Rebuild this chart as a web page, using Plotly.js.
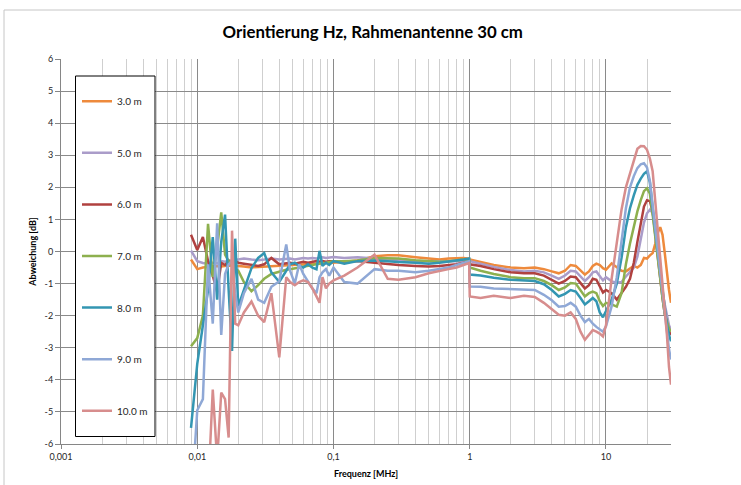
<!DOCTYPE html>
<html><head><meta charset="utf-8">
<script src="https://cdn.plot.ly/plotly-3.0.1.min.js"></script>
<style>html,body{margin:0;padding:0;background:#fff}#chart{width:741px;height:485px}</style>
</head><body><div id="chart"></div>
<script>
// Frequency in MHz
const freq = [0.009,0.010,0.011,0.012,0.013,0.014,0.015,0.016,0.017,0.018,0.019,0.020,
 0.022,0.025,0.028,0.031,0.035,0.040,0.045,0.048,0.052,0.056,0.060,0.065,0.070,0.075,0.079,0.083,0.088,0.093,0.100,
 0.12,0.15,0.2,0.25,0.3,0.4,0.5,0.6,0.7,0.8,0.9,0.99,
 1.0,1.2,1.5,2.0,2.5,3.0,3.5,4.0,4.5,5.0,5.5,6.0,6.5,7.0,7.5,8.0,8.5,9.0,9.5,10,
 11,12,13,14,15,16,17,18,19,20,21,22,23,24,25,26,27,28,29,30];

const dev3m = [-0.25,-0.55,-0.5,-0.48,-0.46,-0.45,-0.47,-0.45,-0.44,-0.45,-0.44,-0.45,
 -0.47,-0.5,-0.48,-0.47,-0.45,-0.45,-0.43,-0.42,-0.42,-0.4,-0.4,-0.4,-0.38,-0.38,-0.38,-0.37,-0.36,-0.36,-0.35,
 -0.33,-0.28,-0.15,-0.12,-0.12,-0.18,-0.22,-0.25,-0.22,-0.2,-0.2,-0.22,
 -0.25,-0.33,-0.42,-0.5,-0.52,-0.5,-0.55,-0.62,-0.68,-0.6,-0.42,-0.45,-0.6,-0.72,-0.62,-0.45,-0.38,-0.42,-0.52,-0.57,
 -0.37,-0.5,-0.6,-0.62,-0.52,-0.45,-0.5,-0.42,-0.2,-0.22,-0.12,-0.05,0.25,0.58,0.76,0.52,-0.05,-0.68,-1.2,-1.6];

const dev5m = [0.03,-0.3,-0.36,-0.38,-0.35,-0.37,-0.3,-0.32,-0.27,-0.3,-0.26,-0.24,
 -0.22,-0.25,-0.27,-0.25,-0.22,-0.25,-0.24,-0.22,-0.25,-0.22,-0.2,-0.22,-0.2,-0.22,-0.2,-0.18,-0.2,-0.18,-0.17,
 -0.2,-0.18,-0.22,-0.25,-0.27,-0.3,-0.3,-0.3,-0.3,-0.28,-0.28,-0.3,
 -0.3,-0.38,-0.48,-0.58,-0.62,-0.6,-0.65,-0.75,-0.85,-0.75,-0.6,-0.62,-0.78,-0.92,-0.8,-0.65,-0.62,-0.75,-0.9,-0.8,
 -0.93,-0.97,-0.95,-0.78,-0.65,-0.5,-0.16,0.45,0.9,1.19,1.3,1.2,0.8,0.1,-0.65,-1.25,-1.65,-1.95,-2.3,-2.44];

const dev6m = [0.52,0.05,0.45,-0.3,-0.75,-1.25,-0.35,-0.42,-0.3,-0.4,-0.3,-0.35,
 -0.38,-0.42,-0.45,-0.4,-0.2,-0.4,-0.38,-0.35,-0.38,-0.35,-0.32,-0.35,-0.33,-0.3,-0.32,-0.3,-0.32,-0.3,-0.3,
 -0.3,-0.3,-0.35,-0.4,-0.42,-0.45,-0.47,-0.45,-0.42,-0.4,-0.35,-0.3,
 -0.4,-0.45,-0.55,-0.65,-0.68,-0.68,-0.75,-0.88,-1.0,-0.92,-0.78,-0.8,-1.0,-1.15,-1.05,-0.85,-0.88,-1.1,-1.28,-1.2,
 -1.3,-1.5,-1.3,-1.1,-0.85,-0.35,0.3,0.9,1.4,1.6,1.57,1.25,0.55,-0.25,-0.95,-1.45,-1.95,-2.25,-2.5,-2.6];

const dev7m = [-2.95,-2.7,-2.0,0.86,-0.8,0.1,1.22,-0.1,-0.3,-0.45,-0.55,-0.6,
 -0.95,-1.24,-1.05,-0.85,-0.7,-0.62,-0.57,-0.55,-0.52,-0.5,-0.47,-0.45,-0.42,-0.4,-0.38,-0.36,-0.35,-0.33,-0.3,
 -0.3,-0.28,-0.2,-0.2,-0.22,-0.27,-0.3,-0.32,-0.3,-0.27,-0.25,-0.25,
 -0.5,-0.6,-0.7,-0.8,-0.83,-0.83,-0.92,-1.05,-1.2,-1.12,-0.98,-1.0,-1.22,-1.4,-1.3,-1.25,-1.3,-1.55,-1.7,-1.6,
 -1.65,-1.72,-1.3,-0.4,0.25,0.8,1.25,1.6,1.88,1.97,1.8,1.15,0.45,-0.3,-0.95,-1.45,-1.95,-2.2,-2.4,-2.5];

const dev8m = [-5.5,-3.5,-2.3,-1.2,0.45,-1.5,0.3,1.15,-1.2,-3.1,0.4,-1.7,
 -1.2,-0.52,-0.2,-0.05,-0.65,-0.95,-0.6,-0.4,-0.35,-0.45,-0.5,-0.4,-0.5,-0.55,0.02,-0.45,-0.35,-0.42,-0.3,
 -0.38,-0.3,-0.28,-0.3,-0.33,-0.35,-0.38,-0.35,-0.32,-0.28,-0.25,-0.22,
 -0.72,-0.75,-0.82,-0.88,-0.9,-0.92,-1.02,-1.2,-1.4,-1.32,-1.2,-1.25,-1.45,-1.65,-1.55,-1.45,-1.55,-1.9,-2.05,-1.85,
 -1.5,-1.0,-0.2,0.75,1.35,1.75,2.08,2.27,2.42,2.5,2.15,1.35,0.65,-0.05,-0.7,-1.25,-1.85,-2.3,-2.6,-2.8];

const dev9m = [-8,-4.95,-4.6,-0.4,-2.25,0.88,-2.6,-0.7,-0.4,-0.3,-1.3,-1.9,
 -1.3,-0.85,-1.5,-1.6,-1.1,-0.93,0.22,-0.6,-1.0,-0.4,-0.7,-0.95,-1.15,-1.3,-0.8,-0.65,-0.55,-0.75,-0.5,
 -0.95,-1.0,-0.55,-0.6,-0.6,-0.65,-0.6,-0.55,-0.5,-0.42,-0.35,-0.3,
 -1.09,-1.1,-1.15,-1.18,-1.19,-1.2,-1.35,-1.52,-1.72,-1.7,-1.6,-1.72,-2.0,-2.2,-2.1,-2.25,-2.35,-2.44,-2.5,-2.33,
 -1.71,-0.8,0.25,1.35,2.0,2.35,2.6,2.72,2.75,2.62,2.2,1.45,0.75,0.05,-0.6,-1.15,-1.85,-2.4,-3.05,-3.37];

const dev10m = [null,null,null,-7.5,-4.3,-6.5,-4.4,-4.6,-5.8,0.65,-2.25,-2.3,
 -1.9,-1.56,-2.0,-2.2,-1.3,-3.3,-0.8,-0.95,-1.05,-0.95,-0.9,-0.95,-1.15,-1.4,-1.6,-0.8,-1.15,-1.0,-0.9,
 -0.75,-0.5,-0.1,-0.85,-0.88,-0.8,-0.68,-0.6,-0.55,-0.5,-0.42,-0.36,
 -1.4,-1.45,-1.38,-1.45,-1.38,-1.42,-1.6,-1.8,-1.97,-2.0,-1.9,-2.1,-2.5,-2.75,-2.6,-2.45,-2.5,-2.56,-2.65,-2.3,
 -0.85,0.25,1.3,2.0,2.45,2.8,3.2,3.29,3.28,3.17,2.9,2.5,1.6,0.75,-0.1,-0.9,-1.7,-2.6,-3.6,-4.15];

const seriesNames = ['3.0 m','5.0 m','6.0 m','7.0 m','8.0 m','9.0 m','10.0 m'];
const seriesData = [dev3m, dev5m, dev6m, dev7m, dev8m, dev9m, dev10m];
const seriesColors = ['#EE8A3C','#AA9CC9','#B0413F','#8DB04E','#3396B2','#8FA8D6','#D78D8D'];

const xTickVals = [0.001,0.01,0.1,1,10];
const xTickText = ['0,001','0,01','0,1','1','10'];
const xMinorVals = [0.002,0.003,0.004,0.005,0.006,0.007,0.008,0.009,
 0.02,0.03,0.04,0.05,0.06,0.07,0.08,0.09,
 0.2,0.3,0.4,0.5,0.6,0.7,0.8,0.9,
 2,3,4,5,6,7,8,9,20,30];
const yTickVals = [6,5,4,3,2,1,0,-1,-2,-3,-4,-5,-6];
const yTickText = ['6','5','4','3','2','1','0','-1','-2','-3','-4','-5','-6'];

const FONT = 'Lato, "Open Sans", sans-serif';

const traces = seriesData.map((d, i) => ({
  type: 'scatter', mode: 'lines', x: freq, y: d, name: seriesNames[i],
  legendgroup: 'g' + i,
  line: {color: seriesColors[i], width: 2.5},
  hoverinfo: 'skip'
}));

// px -> paper helpers (plot area: x 61..671, y 59..444)
const px = v => (v - 61) / 610;
const py = v => (444 - v) / 385;

const layout = {
  width: 741, height: 485,
  margin: {l: 61, r: 70, t: 59, b: 41},
  paper_bgcolor: '#fff', plot_bgcolor: '#fff',
  font: {family: FONT, color: '#262626', size: 9},
  title: {text: '<b>Orientierung Hz, Rahmenantenne 30 cm</b>', font: {family: FONT, size: 16.8, color: '#000'},
          xref: 'container', x: 0.503, xanchor: 'center', yref: 'container', y: 1 - 32/485, yanchor: 'middle'},
  xaxis: {type: 'log', range: [-3, Math.log10(30)], tickmode: 'array', tickvals: xTickVals, ticktext: xTickText,
          showgrid: true, gridcolor: '#8a8a8a', gridwidth: 1, zeroline: false,
          showline: true, linecolor: '#868686', linewidth: 1, ticks: 'outside', ticklen: 4, tickcolor: '#868686',
          tickfont: {family: FONT, size: 9, color: '#262626'},
          minor: {tickmode: 'array', tickvals: xMinorVals, showgrid: true, gridcolor: '#cfcfcf', gridwidth: 1, ticks: ''},
          title: {text: '<b>Frequenz [MHz]</b>', font: {family: FONT, size: 9, color: '#000'}, standoff: 9}},
  yaxis: {range: [-6, 6], tickmode: 'array', tickvals: yTickVals, ticktext: yTickText,
          showgrid: true, gridcolor: '#8a8a8a', gridwidth: 1, zeroline: false,
          showline: true, linecolor: '#868686', linewidth: 1, ticks: 'outside', ticklen: 5, tickcolor: '#868686',
          tickfont: {family: FONT, size: 9, color: '#262626'},
          title: {text: '<b>Abweichung [dB]</b>', font: {family: FONT, size: 9, color: '#000'}, standoff: 6}},
  showlegend: true,
  legend: {x: px(77), xanchor: 'left', y: py(86.7), yanchor: 'top', bgcolor: 'rgba(0,0,0,0)', borderwidth: 0,
           traceorder: 'grouped', tracegroupgap: 32.6, font: {family: FONT, size: 10, color: '#262626'}},
  shapes: [
    {type: 'rect', xref: 'paper', yref: 'paper', x0: px(4), x1: px(760), y0: py(500), y1: py(10),
     line: {color: '#c6c6c6', width: 1}, fillcolor: 'rgba(0,0,0,0)', layer: 'below'},
    {type: 'rect', xref: 'paper', yref: 'paper', x0: px(75.5), x1: px(155), y0: py(436.5), y1: py(76),
     line: {color: '#000', width: 1}, fillcolor: '#fff', layer: 'above'}
  ]
};

Plotly.newPlot('chart', traces, layout, {displayModeBar: false, staticPlot: true});
</script>
</body></html>
